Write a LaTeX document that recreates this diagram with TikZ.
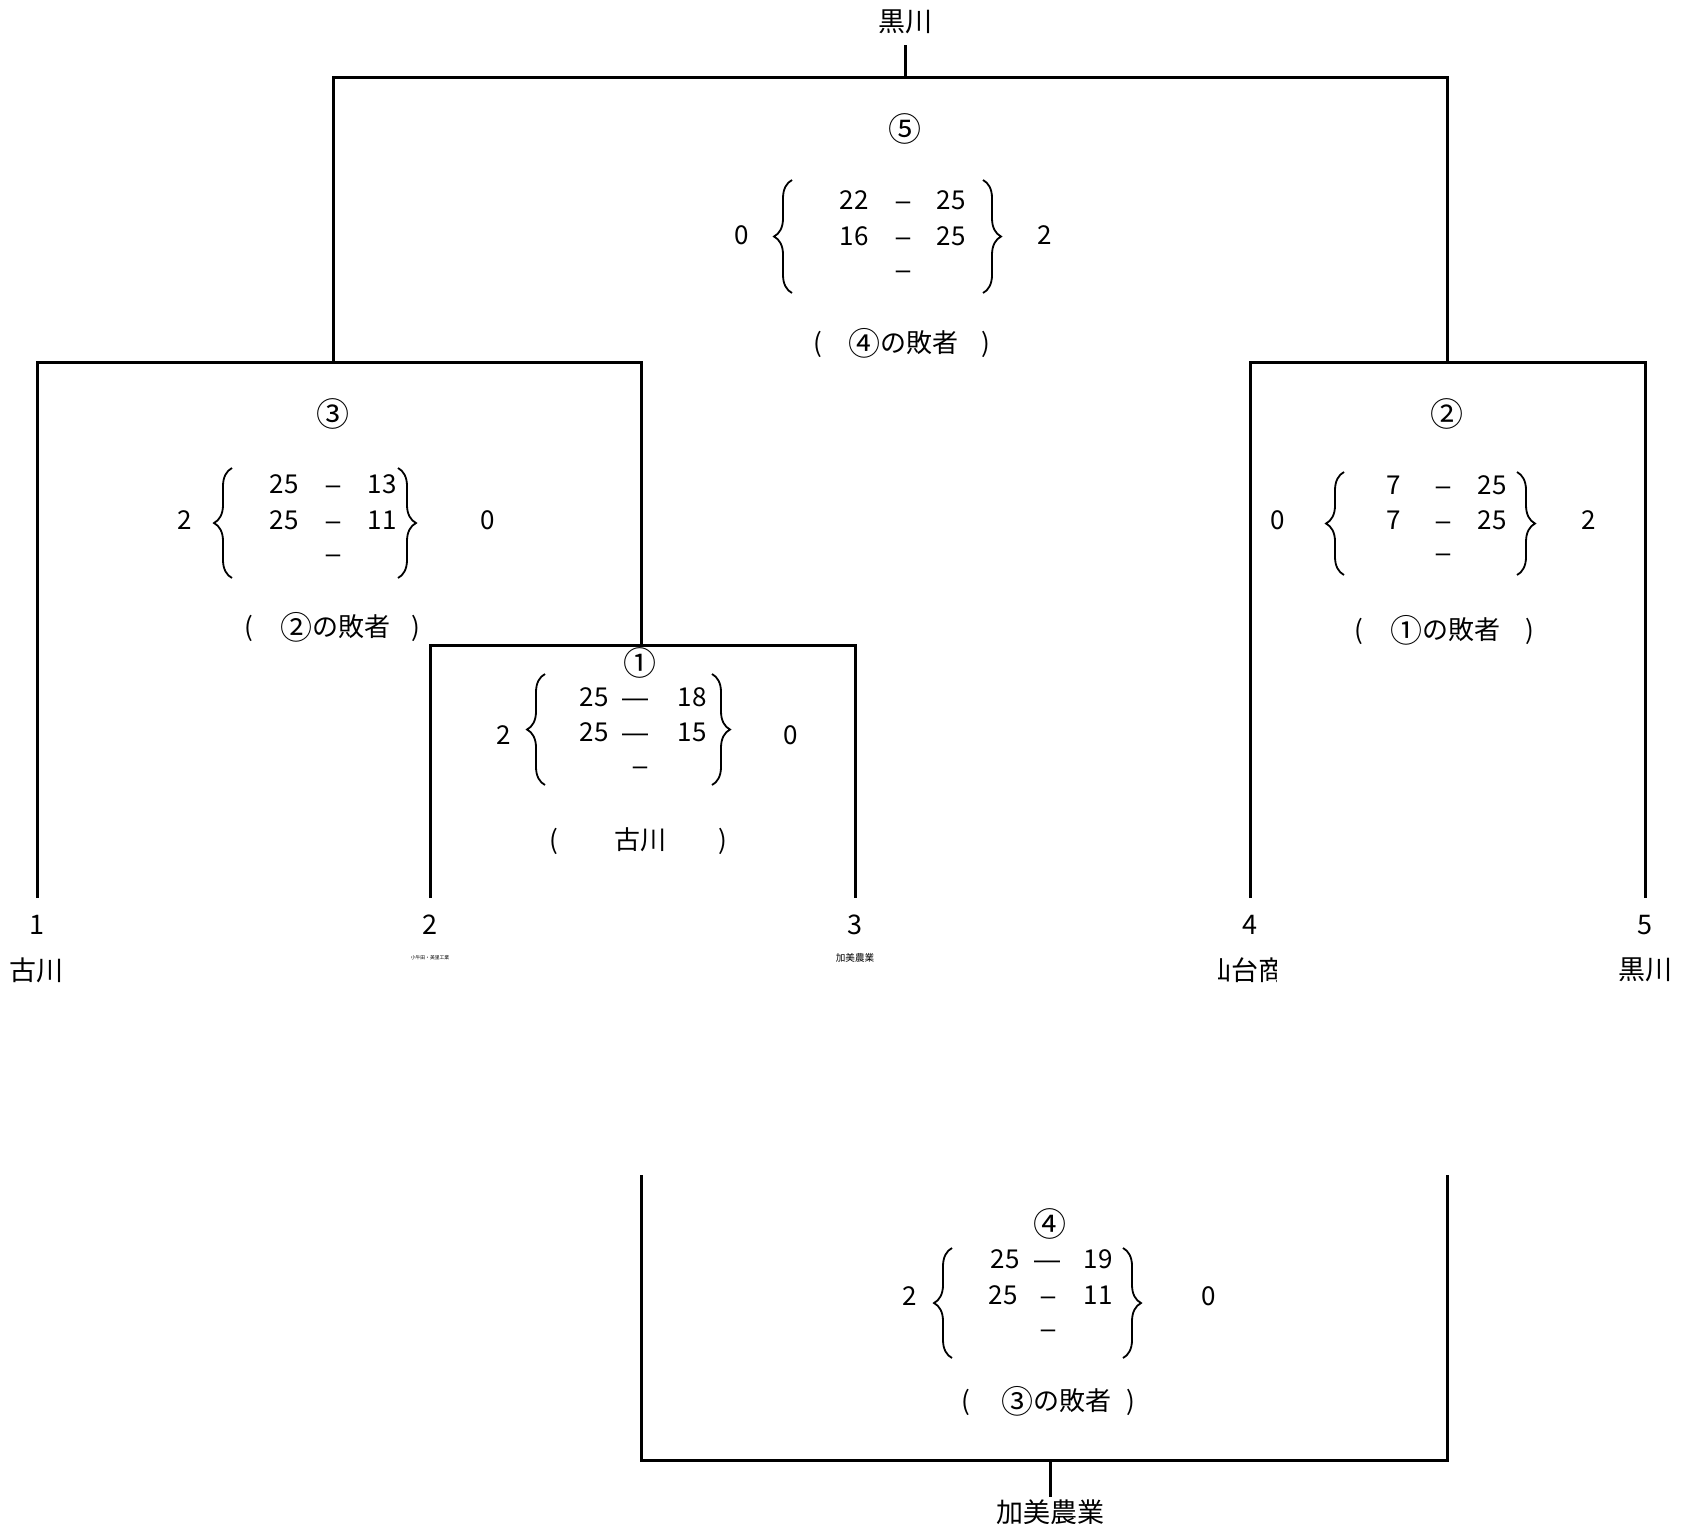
\documentclass[tikz,border=0pt]{standalone}
\usepackage{fontspec}
\setmainfont{Noto Sans CJK JP}
\newfontfamily\latf{Liberation Sans}
\newcommand\sd{{\latf –}}
\newcommand\ld{{\latf —}}
\newcommand\cnum[1]{{\fontsize{16.5}{16}\selectfont #1}}
\newcommand\cnin[1]{\raisebox{-0.12em}{\fontsize{16}{16}\selectfont #1}}
\usetikzlibrary{decorations.pathreplacing}
\begin{document}
\begin{tikzpicture}[x=0.5pt,y=-0.5pt,
  ln/.style={line width=1.5pt},
  t/.style={inner sep=0pt, text height=0.72em, text depth=0pt, font=\fontsize{13}{13}\selectfont},
  big/.style={inner sep=0pt, font=\fontsize{13.5}{14}\selectfont},
  brc/.style={line width=0.9pt, decorate, decoration={brace, amplitude=9pt, aspect=0.5}}]
\useasboundingbox (0,0) rectangle (1685,1523);
\fill[white] (0,0) rectangle (1685,1523);

% ---------- bracket lines ----------
\node[big] (champ) at (905,22) {黒川};
\coordinate (c0) at (905,45);
\coordinate (c1) at (905,77);
\coordinate (aL) at (333,77);
\coordinate (aR) at (1447,77);
\coordinate (bL) at (333,362);
\coordinate (bR) at (1447,362);
\draw[ln] (c0) -- (c1);
\draw[ln] (bL) -- (aL) -- (aR) -- (bR);

\coordinate (l1) at (37,362);
\coordinate (l2) at (641,362);
\coordinate (l1b) at (37,898);
\coordinate (l2b) at (641,645);
\draw[ln] (l1b) -- (l1) -- (l2) -- (l2b);

\coordinate (m1) at (430,645);
\coordinate (m2) at (855,645);
\coordinate (m1b) at (430,898);
\coordinate (m2b) at (855,898);
\draw[ln] (m1b) -- (m1) -- (m2) -- (m2b);

\coordinate (r1) at (1250,362);
\coordinate (r2) at (1645,362);
\coordinate (r1b) at (1250,898);
\coordinate (r2b) at (1645,898);
\draw[ln] (r1b) -- (r1) -- (r2) -- (r2b);

\coordinate (q1) at (641,1175);
\coordinate (q2) at (1447,1175);
\coordinate (q1b) at (641,1460);
\coordinate (q2b) at (1447,1460);
\coordinate (qs) at (1050,1460);
\coordinate (qsb) at (1050,1497);
\draw[ln] (q1) -- (q1b) -- (q2b) -- (q2);
\draw[ln] (qs) -- (qsb);
\node[big] (third) at (1050,1512) {加美農業};

% ---------- team labels ----------
\node[big] (n1) at (37,925) {1};
\node[big] (n2) at (430,925) {2};
\node[big] (n3) at (855,925) {3};
\node[big] (n4) at (1250,925) {4};
\node[big] (n5) at (1645,925) {5};
\node[big] (tm1) at (37,970) {古川};
\node[inner sep=0pt, font=\fontsize{2.4}{3}\selectfont] (tm2) at (430,958) {小牛田・美里工業};
\node[inner sep=0pt, font=\fontsize{4.8}{5}\selectfont] (tm3) at (855,958) {加美農業};
\begin{scope}
\clip (1218,945) rectangle (1276,995);
\node[big] (tm4) at (1245,970) {仙台商};
\end{scope}
\node[big] (tm5) at (1645,970) {黒川};

% ---------- match 5 ----------
\node[t] (g5) at (905,134) {\cnum{⑤}};
\node[t] (g5l) at (742,237) {0};
\node[t] (g5r) at (1045,237) {2};
\coordinate (g5a) at (792,293); \coordinate (g5b) at (792,180);
\coordinate (g5c) at (983,180); \coordinate (g5d) at (983,293);
\draw[brc] (g5a) -- (g5b);
\draw[brc] (g5c) -- (g5d);
\node[t] (g5x1) at (854,202) {22}; \node[t] (g5y1) at (903,202) {\sd}; \node[t] (g5z1) at (951,202) {25};
\node[t] (g5x2) at (854,238) {16}; \node[t] (g5y2) at (903,238) {\sd}; \node[t] (g5z2) at (951,238) {25};
\node[t] (g5y3) at (903,271) {\sd};
\node[t] (g5p1) at (818,345) {(};
\node[t] (g5p2) at (903,345) {\cnin{④}の敗者};
\node[t] (g5p3) at (986,345) {)};

% ---------- match 3 ----------
\node[t] (g3) at (333,419) {\cnum{③}};
\node[t] (g3l) at (185,522) {2};
\node[t] (g3r) at (488,522) {0};
\coordinate (g3a) at (232,578); \coordinate (g3b) at (232,468);
\coordinate (g3c) at (398,468); \coordinate (g3d) at (398,578);
\draw[brc] (g3a) -- (g3b);
\draw[brc] (g3c) -- (g3d);
\node[t] (g3x1) at (284,486) {25}; \node[t] (g3y1) at (333,486) {\sd}; \node[t] (g3z1) at (382,486) {13};
\node[t] (g3x2) at (284,522) {25}; \node[t] (g3y2) at (333,522) {\sd}; \node[t] (g3z2) at (382,522) {11};
\node[t] (g3y3) at (333,555) {\sd};
\node[t] (g3p1) at (249,629) {(};
\node[t] (g3p2) at (335,629) {\cnin{②}の敗者};
\node[t] (g3p3) at (416,629) {)};

% ---------- match 1 ----------
\node[t] (g1) at (640,668) {\cnum{①}};
\node[t] (g1l) at (504,737) {2};
\node[t] (g1r) at (791,737) {0};
\coordinate (g1a) at (545,785); \coordinate (g1b) at (545,674);
\coordinate (g1c) at (712,674); \coordinate (g1d) at (712,785);
\draw[brc] (g1a) -- (g1b);
\draw[brc] (g1c) -- (g1d);
\node[t] (g1x1) at (594,699) {25}; \node[t] (g1y1) at (635,699) {\ld}; \node[t] (g1z1) at (692,699) {18};
\node[t] (g1x2) at (594,734) {25}; \node[t] (g1y2) at (635,734) {\ld}; \node[t] (g1z2) at (692,734) {15};
\node[t] (g1y3) at (640,767) {\sd};
\node[t] (g1p1) at (554,842) {(};
\node[t] (g1p2) at (640,842) {古川};
\node[t] (g1p3) at (723,842) {)};

% ---------- match 2 ----------
\node[t] (g2) at (1447,419) {\cnum{②}};
\node[t] (g2l) at (1278,522) {0};
\node[t] (g2r) at (1589,522) {2};
\coordinate (g2a) at (1344,575); \coordinate (g2b) at (1344,472);
\coordinate (g2c) at (1517,472); \coordinate (g2d) at (1517,575);
\draw[brc] (g2a) -- (g2b);
\draw[brc] (g2c) -- (g2d);
\node[t] (g2x1) at (1394,487) {7}; \node[t] (g2y1) at (1443,487) {\sd}; \node[t] (g2z1) at (1492,487) {25};
\node[t] (g2x2) at (1394,522) {7}; \node[t] (g2y2) at (1443,522) {\sd}; \node[t] (g2z2) at (1492,522) {25};
\node[t] (g2y3) at (1443,554) {\sd};
\node[t] (g2p1) at (1359,632) {(};
\node[t] (g2p2) at (1445,632) {\cnin{①}の敗者};
\node[t] (g2p3) at (1530,632) {)};

% ---------- match 4 ----------
\node[t] (g4) at (1050,1229) {\cnum{④}};
\node[t] (g4l) at (910,1298) {2};
\node[t] (g4r) at (1209,1298) {0};
\coordinate (g4a) at (952,1358); \coordinate (g4b) at (952,1248);
\coordinate (g4c) at (1123,1248); \coordinate (g4d) at (1123,1358);
\draw[brc] (g4a) -- (g4b);
\draw[brc] (g4c) -- (g4d);
\node[t] (g4x1) at (1005,1261) {25}; \node[t] (g4y1) at (1047,1261) {\ld}; \node[t] (g4z1) at (1098,1261) {19};
\node[t] (g4x2) at (1003,1297) {25}; \node[t] (g4y2) at (1048,1297) {\sd}; \node[t] (g4z2) at (1098,1297) {11};
\node[t] (g4y3) at (1048,1330) {\sd};
\node[t] (g4p1) at (966,1403) {(};
\node[t] (g4p2) at (1056,1403) {\cnin{③}の敗者};
\node[t] (g4p3) at (1131,1403) {)};
\end{tikzpicture}
\end{document}
